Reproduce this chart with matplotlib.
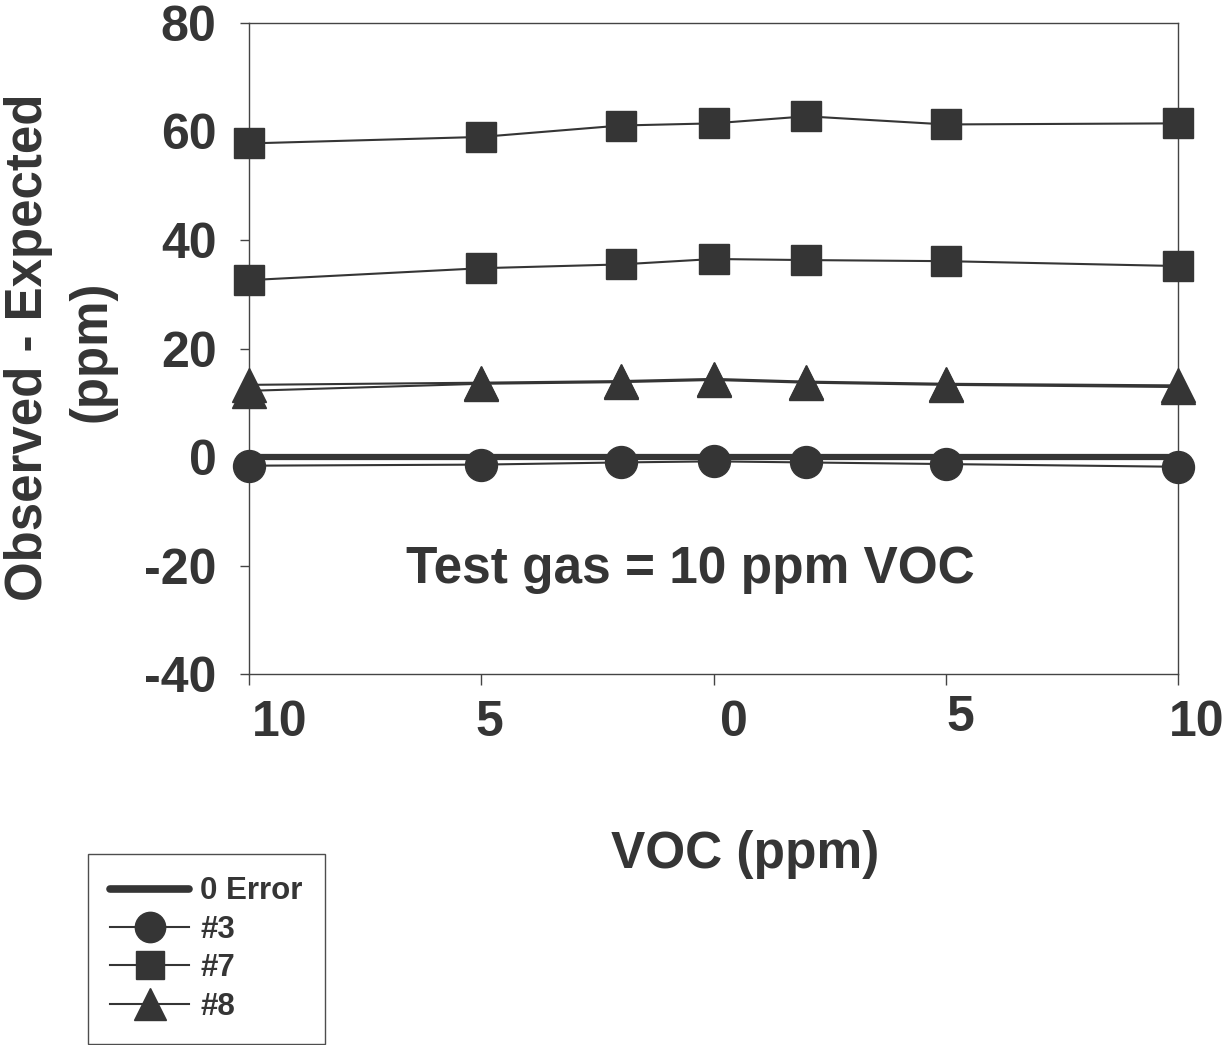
import matplotlib
matplotlib.use("Agg")
import matplotlib.pyplot as plt
import matplotlib.transforms as mtransforms

# VOC sweep (ppm) and observed-minus-expected readings
voc = [-10, -5, -2, 0, 2, 5, 10]
zero_error = [0, 0, 0, 0, 0, 0, 0]
sensor3 = [-1.6, -1.4, -1.0, -0.8, -1.0, -1.3, -1.8]
sensor7_hi = [57.8, 59.0, 61.1, 61.5, 62.8, 61.3, 61.5]
sensor7_lo = [32.6, 34.8, 35.5, 36.5, 36.3, 36.1, 35.2]
sensor8_a = [13.3, 13.7, 14.0, 14.4, 13.9, 13.5, 13.2]
sensor8_b = [12.2, 13.5, 13.8, 14.2, 13.7, 13.3, 12.9]

xticks = [-10, -5, 0, 5, 10]
xtick_labels = ["10", "5", "0", "5", "10"]
yticks = [-40, -20, 0, 20, 40, 60, 80]

plt.rcParams['font.family'] = ['Liberation Sans', 'DejaVu Sans']
plt.rcParams['font.weight'] = 'bold'
plt.rcParams['axes.unicode_minus'] = False

ink = '#353535'

fig = plt.figure(figsize=(12.3, 10.45), dpi=100)
ax = fig.add_axes([0.2025, 0.355, 0.7553, 0.623])

common = dict(color=ink, lw=1.5, clip_on=False, zorder=3)
ax.plot(voc, zero_error, color=ink, lw=4.5, solid_capstyle='butt', label='0 Error',
        clip_on=False, zorder=2)
ax.plot(voc, sensor3, marker='o', ms=23, label='#3', **common)
ax.plot(voc, sensor7_hi, marker='s', ms=21, label='#7', **common)
ax.plot(voc, sensor7_lo, marker='s', ms=21, **common)
ax.plot(voc, sensor8_a, marker='^', ms=24, label='#8', **common)
ax.plot(voc, sensor8_b, marker='^', ms=24, **common)

ax.set_xlim(-10, 10)
ax.set_ylim(-40, 80)
ax.set_yticks(yticks)
ax.set_xticks(xticks)
ax.set_xticklabels(xtick_labels)
for s in ax.spines.values():
    s.set_linewidth(1.0)
    s.set_color('#444444')

ax.tick_params(axis='y', direction='out', length=6.5, width=1, color='#444444',
               labelsize=36, labelcolor=ink, pad=17)
ax.tick_params(axis='x', direction='out', length=8, width=1, color='#444444',
               labelsize=36, labelcolor=ink, pad=11)

# tick labels sit a little right of their ticks
shifts = [(31, 0), (8, 0), (20, 0), (14, 5), (19, 0)]
for lab, (dx, dy) in zip(ax.get_xticklabels(), shifts):
    lab.set_transform(lab.get_transform() +
                      mtransforms.ScaledTranslation(dx / 100, dy / 100, fig.dpi_scale_trans))

fig.text(0.0235, 0.668, 'Observed - Expected', rotation=90, ha='center', va='center',
         fontsize=36.7, color=ink)
fig.text(0.075, 0.664, '(ppm)', rotation=90, ha='center', va='center',
         fontsize=36.7, color=ink)
fig.text(0.606, 0.182, 'VOC (ppm)', ha='center', va='center', fontsize=37, color=ink)
ax.text(-0.5, -20.8, 'Test gas = 10 ppm VOC', ha='center', va='center',
        fontsize=37, color=ink)

leg = fig.legend(loc='upper left', bbox_to_anchor=(0.0715, 0.1828), borderaxespad=0,
                 fontsize=22.5, frameon=True, fancybox=False, handlelength=2.5,
                 handletextpad=0.38, labelspacing=0.27, borderpad=0.72,
                 markerscale=0.95, labelcolor=ink)
leg.get_frame().set_edgecolor('#222222')
leg.get_frame().set_linewidth(1.0)
leg.get_lines()[0].set_linewidth(5.5)
leg.get_lines()[0].set_solid_capstyle('round')

fig.savefig('out.png', dpi=100)
